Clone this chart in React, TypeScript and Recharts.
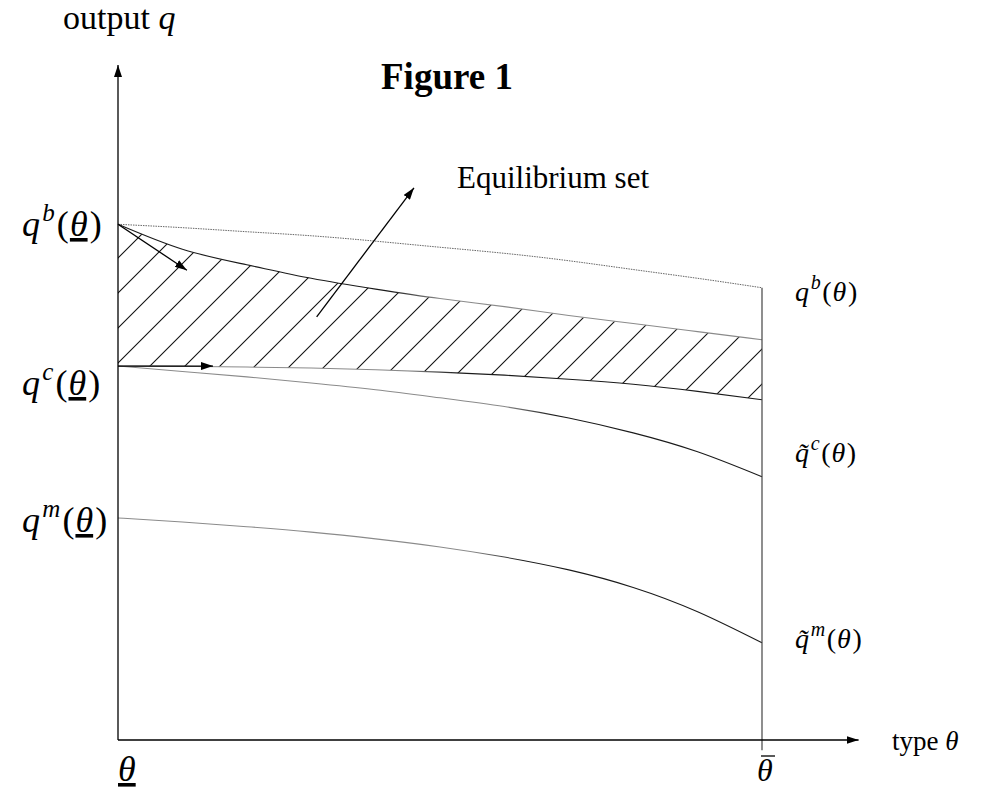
import React from "react";
import { ComposedChart, Line, Area, XAxis, YAxis, ReferenceLine } from "recharts";

// type theta, from theta_low (0) to theta_high (1)
const theta = [0, 0.1, 0.2, 0.3, 0.4, 0.5, 0.6, 0.7, 0.8, 0.9, 1];
// q^b(theta)
const qB = [76.4, 75.9, 75.3, 74.7, 73.9, 73.0, 72.1, 71.0, 69.7, 68.4, 67.0];
// upper edge of the equilibrium set
const qUpper = [76.4, 72.7, 70.4, 68.4, 66.8, 65.4, 64.2, 62.9, 61.7, 60.5, 59.3];
// q^c(theta), lower edge of the equilibrium set
const qC = [55.4, 55.35, 55.25, 55.1, 54.85, 54.5, 54.05, 53.45, 52.7, 51.65, 50.4];
// q~c(theta)
const qTildeC = [55.4, 54.6, 53.8, 52.9, 51.9, 50.7, 49.4, 47.7, 45.5, 42.7, 39.0];
// q~m(theta)
const qTildeM = [32.9, 32.3, 31.6, 30.8, 29.8, 28.6, 27.1, 25.2, 22.6, 19.0, 14.4];

const W = 985;
const H = 792;
const FONT = "'Liberation Serif', 'Times New Roman', serif";

const data = theta.map((t, i) => ({
  t,
  qB: qB[i],
  upper: qUpper[i],
  qc: qC[i],
  tc: qTildeC[i],
  tm: qTildeM[i],
  band: [qC[i], qUpper[i]],
}));

const Arrow = (p: any) => (
  <line
    x1={p.x1}
    y1={p.y1}
    x2={p.x2}
    y2={p.y2}
    stroke="#000"
    strokeWidth={1.3}
    markerEnd="url(#arrowHead)"
  />
);

const LIGHT = "#8a8a8a";
const DARK = "#1a1a1a";

// left-hand labels are set bigger than the right-hand ones in the original
function QLabel({ x, y, sup, tilde, under, size }: any) {
  const s = size;
  const sub = Math.round(s * 0.7);
  const gap = s * 0.06;
  return (
    <text x={x} y={y} fontFamily={FONT} fontSize={s} fill="#000">
      <tspan fontStyle="italic">{tilde ? "q\u0303" : "q"}</tspan>
      <tspan dx={gap} dy={-s * 0.42} fontSize={sub} fontStyle="italic">
        {sup}
      </tspan>
      <tspan dx={gap} dy={s * 0.42}>(</tspan>
      <tspan dx={gap * 0.5} fontStyle="italic" textDecoration={under ? "underline" : undefined}>
        θ
      </tspan>
      <tspan dx={gap}>)</tspan>
    </text>
  );
}

const Fade = ({ id, at, reverse }: any) => (
  <linearGradient id={id} x1="0" y1="0" x2="1" y2="0">
    <stop offset={0} stopColor={reverse ? DARK : LIGHT} />
    <stop offset={at} stopColor={reverse ? DARK : LIGHT} />
    <stop offset={at + 0.08} stopColor={reverse ? LIGHT : DARK} />
    <stop offset={1} stopColor={reverse ? LIGHT : DARK} />
  </linearGradient>
);

export default function App() {
  return (
    <div style={{ position: "absolute", left: 0, top: 0, width: W, height: H, background: "#fff" }}>
      <ComposedChart
        width={W}
        height={H}
        data={data}
        margin={{ top: 65, right: 126.4, bottom: 11.5, left: 118 }}
      >
        <defs>
          <marker
            id="arrowHead"
            viewBox="0 0 12 8"
            refX="12"
            refY="4"
            markerWidth="12"
            markerHeight="8"
            markerUnits="userSpaceOnUse"
            orient="auto"
          >
            <path d="M0,0 L12,4 L0,8 z" fill="#000" />
          </marker>
          <pattern
            id="hatch"
            patternUnits="userSpaceOnUse"
            width="35"
            height="35"
            patternTransform="translate(26,0)"
          >
            <path d="M0,35 L35,0 M-9,9 L9,-9 M26,44 L44,26" stroke="#111" strokeWidth="1.1" />
          </pattern>
          <Fade id="fadeUpper" at={0.42} reverse />
          <Fade id="fadeQc" at={0.45} />
          <Fade id="fadeTc" at={0.6} />
          <Fade id="fadeTm" at={0.55} />
        </defs>
        <XAxis dataKey="t" type="number" domain={[0, 1.15]} hide />
        <YAxis type="number" domain={[-6, 100]} hide />

        <Area
          dataKey="band"
          type="natural"
          fill="url(#hatch)"
          fillOpacity={1}
          stroke="none"
          isAnimationActive={false}
        />

        <Line dataKey="qB" type="natural" dot={false} stroke="#666" strokeWidth={1} strokeDasharray="1.5 1" isAnimationActive={false} />
        <Line dataKey="upper" type="natural" dot={false} stroke="url(#fadeUpper)" strokeWidth={1.1} isAnimationActive={false} />
        <Line dataKey="qc" type="natural" dot={false} stroke="url(#fadeQc)" strokeWidth={1.1} isAnimationActive={false} />
        <Line dataKey="tc" type="natural" dot={false} stroke="url(#fadeTc)" strokeWidth={1.1} isAnimationActive={false} />
        <Line dataKey="tm" type="natural" dot={false} stroke="url(#fadeTm)" strokeWidth={1.1} isAnimationActive={false} />

        {/* theta-bar vertical */}
        <ReferenceLine
          segment={[{ x: 1, y: qB[10] }, { x: 1, y: -1.5 }]}
          stroke="#444"
          strokeWidth={1.2}
        />
        {/* axes */}
        <ReferenceLine segment={[{ x: 0, y: 0 }, { x: 0, y: 100 }]} shape={Arrow} />
        <ReferenceLine segment={[{ x: 0, y: 0 }, { x: 1.15, y: 0 }]} shape={Arrow} />
        {/* direction arrows */}
        <ReferenceLine segment={[{ x: 0, y: qB[0] }, { x: 0.107, y: 69.6 }]} shape={Arrow} />
        <ReferenceLine segment={[{ x: 0, y: qC[0] }, { x: 0.1475, y: qC[0] }]} shape={Arrow} />
        <ReferenceLine segment={[{ x: 0.3085, y: 62.7 }, { x: 0.4596, y: 81.8 }]} shape={Arrow} />
      </ComposedChart>

      <svg width={W} height={H} style={{ position: "absolute", left: 0, top: 0, pointerEvents: "none" }}>
        <text x={63} y={29} fontFamily={FONT} fontSize={34}>
          output <tspan fontStyle="italic">q</tspan>
        </text>
        <text x={381} y={89} fontFamily={FONT} fontSize={37} fontWeight="bold">
          Figure 1
        </text>
        <text x={457} y={188} fontFamily={FONT} fontSize={31}>
          Equilibrium set
        </text>

        <QLabel x={22} y={236} sup="b" under size={36} />
        <QLabel x={22} y={395} sup="c" under size={36} />
        <QLabel x={22} y={532} sup="m" under size={36} />

        <QLabel x={795} y={301} sup="b" size={28} />
        <QLabel x={795} y={462} sup="c" tilde size={28} />
        <QLabel x={795} y={648} sup="m" tilde size={28} />

        <text x={892} y={750} fontFamily={FONT} fontSize={27}>
          type <tspan fontStyle="italic">θ</tspan>
        </text>
        <text x={118} y={781} fontFamily={FONT} fontSize={36} fontStyle="italic" textDecoration="underline">
          θ
        </text>
        <text x={757} y={781} fontFamily={FONT} fontSize={32} fontStyle="italic">
          θ
        </text>
        <line x1={761} x2={775} y1={756} y2={756} stroke="#000" strokeWidth={1.3} />
      </svg>
    </div>
  );
}
